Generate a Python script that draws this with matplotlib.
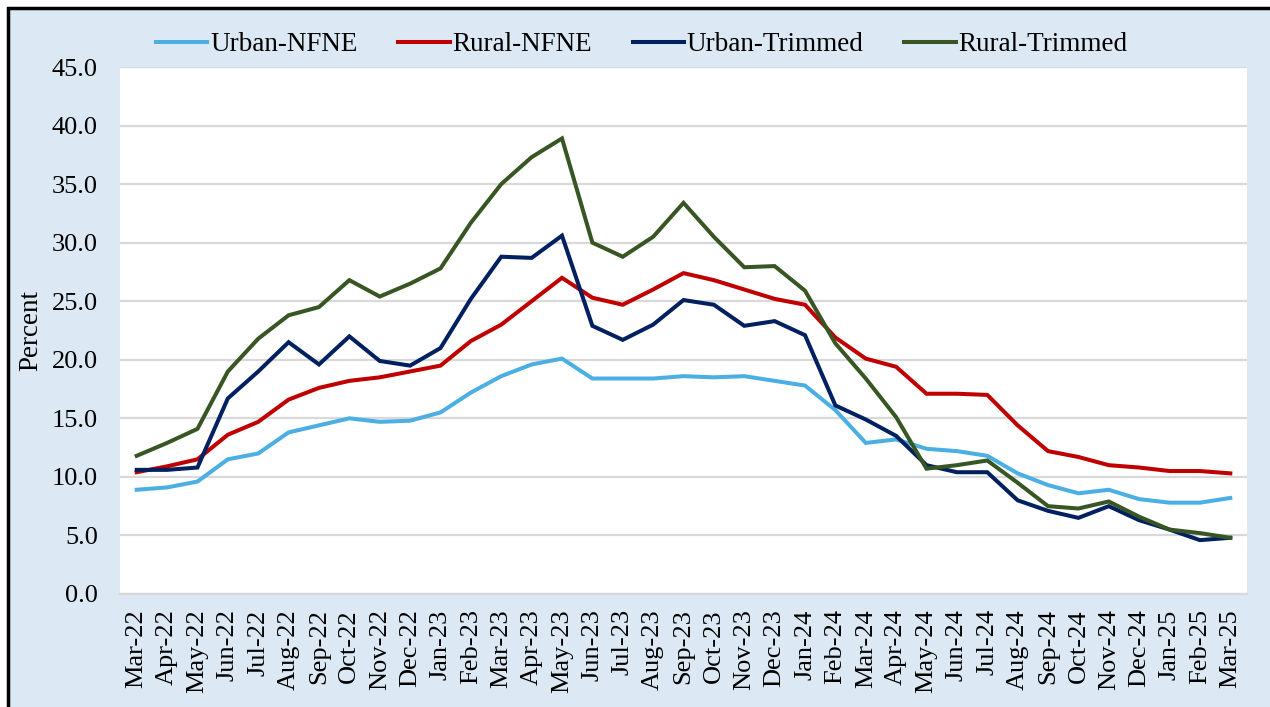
import matplotlib
matplotlib.use("Agg")
import matplotlib.pyplot as plt
from matplotlib.patches import Rectangle

plt.rcParams['font.family'] = ['Liberation Serif', 'DejaVu Serif']

# month labels, Mar-22 .. Mar-25
months = ['Mar-22', 'Apr-22', 'May-22', 'Jun-22', 'Jul-22', 'Aug-22', 'Sep-22', 'Oct-22',
          'Nov-22', 'Dec-22', 'Jan-23', 'Feb-23', 'Mar-23', 'Apr-23', 'May-23', 'Jun-23',
          'Jul-23', 'Aug-23', 'Sep-23', 'Oct-23', 'Nov-23', 'Dec-23', 'Jan-24', 'Feb-24',
          'Mar-24', 'Apr-24', 'May-24', 'Jun-24', 'Jul-24', 'Aug-24', 'Sep-24', 'Oct-24',
          'Nov-24', 'Dec-24', 'Jan-25', 'Feb-25', 'Mar-25']

urban_nfne = [8.9, 9.1, 9.6, 11.5, 12.0, 13.8, 14.4, 15.0, 14.7, 14.8, 15.5, 17.2, 18.6,
              19.6, 20.1, 18.4, 18.4, 18.4, 18.6, 18.5, 18.6, 18.2, 17.8, 15.7, 12.9, 13.2,
              12.4, 12.2, 11.8, 10.3, 9.3, 8.6, 8.9, 8.1, 7.8, 7.8, 8.2]
rural_nfne = [10.4, 10.9, 11.5, 13.6, 14.7, 16.6, 17.6, 18.2, 18.5, 19.0, 19.5, 21.6, 23.0,
              25.0, 27.0, 25.3, 24.7, 26.0, 27.4, 26.8, 26.0, 25.2, 24.7, 21.9, 20.1, 19.4,
              17.1, 17.1, 17.0, 14.4, 12.2, 11.7, 11.0, 10.8, 10.5, 10.5, 10.3]
urban_trim = [10.6, 10.6, 10.8, 16.7, 19.0, 21.5, 19.6, 22.0, 19.9, 19.5, 21.0, 25.2, 28.8,
              28.7, 30.6, 22.9, 21.7, 23.0, 25.1, 24.7, 22.9, 23.3, 22.1, 16.1, 14.9, 13.5,
              11.0, 10.4, 10.4, 8.0, 7.1, 6.5, 7.5, 6.3, 5.5, 4.6, 4.8]
rural_trim = [11.8, 12.9, 14.1, 19.0, 21.8, 23.8, 24.5, 26.8, 25.4, 26.5, 27.8, 31.7, 35.0,
              37.3, 38.9, 30.0, 28.8, 30.5, 33.4, 30.5, 27.9, 28.0, 25.9, 21.4, 18.4, 15.1,
              10.7, 11.0, 11.4, 9.5, 7.5, 7.3, 7.9, 6.6, 5.5, 5.2, 4.8]

series = [('Urban-NFNE', urban_nfne, '#4bafe3'),
          ('Rural-NFNE', rural_nfne, '#c00000'),
          ('Urban-Trimmed', urban_trim, '#002060'),
          ('Rural-Trimmed', rural_trim, '#375623')]

fig = plt.figure(figsize=(12.7, 7.07), dpi=100)
fig.patch.set_facecolor('white')
# light blue panel with black frame
panel = Rectangle((8 / 1270, -0.01), 1.02, 1 - 8 / 707 + 0.01,
                  transform=fig.transFigure, facecolor='#dce9f5',
                  edgecolor='black', linewidth=2.5, zorder=-10)
fig.add_artist(panel)

ax = fig.add_axes([120 / 1270, 1 - 594 / 707, (1247 - 120) / 1270, (594 - 67) / 707])
ax.set_zorder(5)
ax.set_facecolor('white')

x = list(range(len(months)))
for name, vals, col in series:
    ax.plot(x, vals, color=col, linewidth=2.9, label=name, solid_joinstyle='miter')

ax.set_ylim(0, 45)
ax.set_yticks([i * 5 for i in range(10)])
ax.set_yticklabels([f'{i * 5:.1f}' for i in range(10)], fontsize=19)
ax.set_xlim(-0.55, len(months) - 0.45)
ax.set_xticks(x)
ax.set_xticklabels(months, rotation=90, fontsize=19)
ax.tick_params(axis='x', length=0, pad=11)
ax.tick_params(axis='y', length=0, pad=16)
ax.grid(axis='y', color='#d9d9d9', linewidth=1.6)
ax.set_axisbelow(True)
for s in ['top', 'right', 'left']:
    ax.spines[s].set_visible(False)
ax.spines['bottom'].set_color('#d9d9d9')
ax.spines['bottom'].set_linewidth(1.6)
ax.set_ylabel('Percent', fontsize=19.5, labelpad=6)

ax.legend(loc='lower center', bbox_to_anchor=(0.463, 0.995), ncol=4, frameon=False,
          fontsize=19.5, handlelength=1.9, columnspacing=1.5, handletextpad=0.1,
          borderaxespad=0.05)

fig.savefig('out.png', dpi=100)
